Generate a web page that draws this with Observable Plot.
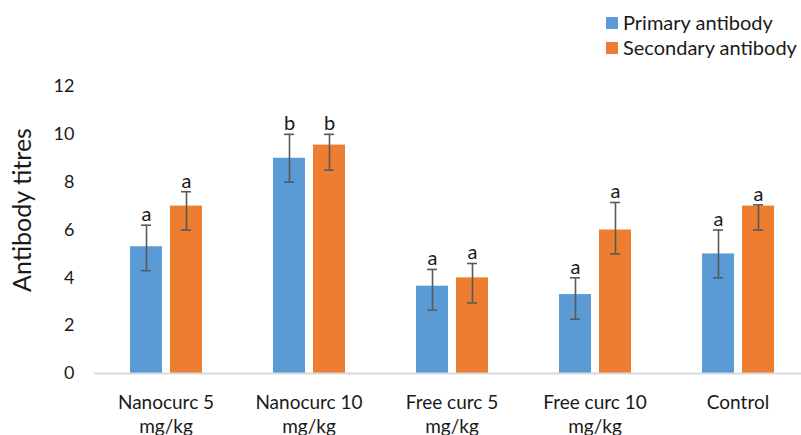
<!DOCTYPE html>
<html>
<head>
<meta charset="utf-8">
<script src="https://cdn.jsdelivr.net/npm/d3@7"></script>
<script src="https://cdn.jsdelivr.net/npm/@observablehq/plot@0.6"></script>
<style>
  html, body { margin: 0; padding: 0; background: #fff; }
  #wrap { position: relative; width: 801px; height: 435px; overflow: hidden; font-family: Lato, sans-serif; }
  #legend { position: absolute; left: 606px; top: 10px; font-size: 20px; color: #1a1a1a; line-height: 25px; }
  #legend .row { display: flex; align-items: center; white-space: nowrap; }
  #legend .sw { width: 12px; height: 12px; margin-right: 5px; }
</style>
</head>
<body>
<div id="wrap"></div>
<script>
const categories = ["Nanocurc 5\nmg/kg", "Nanocurc 10\nmg/kg", "Free curc 5\nmg/kg", "Free curc 10\nmg/kg", "Control"];
const series = ["Primary antibody", "Secondary antibody"];
const colors = ["#5b9bd5", "#ed7d31"];
const primary = [5.3, 9.0, 3.65, 3.3, 5.0];
const primaryLow = [4.3, 8.0, 2.65, 2.27, 4.0];
const primaryHigh = [6.2, 10.0, 4.35, 4.0, 6.0];
const primaryLetters = ["a", "b", "a", "a", "a"];
const secondary = [7.0, 9.55, 4.0, 6.0, 7.0];
const secondaryLow = [6.0, 8.5, 2.95, 5.0, 6.0];
const secondaryHigh = [7.6, 10.0, 4.6, 7.15, 7.05];
const secondaryLetters = ["a", "b", "a", "a", "a"];
const yTicks = [0, 2, 4, 6, 8, 10, 12];

const rows = [];
categories.forEach((c, i) => {
  rows.push({cat: c, s: series[0], v: primary[i], lo: primaryLow[i], hi: primaryHigh[i], t: primaryLetters[i]});
  rows.push({cat: c, s: series[1], v: secondary[i], lo: secondaryLow[i], hi: secondaryHigh[i], t: secondaryLetters[i]});
});

const chart = Plot.plot({
  width: 801,
  height: 435,
  marginTop: 86,
  marginBottom: 62,
  marginLeft: 94,
  marginRight: -8.5,
  style: {fontFamily: "Lato, sans-serif", fontSize: "18px", color: "#1a1a1a", background: "#fff"},
  fx: {domain: categories, padding: 0},
  x: {domain: series, paddingInner: 0.2, paddingOuter: 0.8875, axis: null},
  y: {domain: [0, 12]},
  color: {domain: series, range: colors},
  marks: [
    Plot.axisY({ticks: yTicks, tickSize: 0, tickPadding: 20, label: null, fontSize: 18}),
    Plot.axisFx({anchor: "bottom", tickSize: 0, tickPadding: 19, label: null, fontSize: 19, lineHeight: 1.25}),
    Plot.barY(rows, {fx: "cat", x: "s", y: "v", fill: "s"}),
    Plot.ruleY([0], {stroke: "#d9d9d9", strokeWidth: 2}),
    Plot.ruleX(rows, {fx: "cat", x: "s", y1: "lo", y2: "hi", stroke: "#595959", strokeWidth: 1.6}),
    Plot.tickY(rows, {fx: "cat", x: "s", y: "lo", insetLeft: 11, insetRight: 11, stroke: "#595959", strokeWidth: 1.6}),
    Plot.tickY(rows, {fx: "cat", x: "s", y: "hi", insetLeft: 11, insetRight: 11, stroke: "#595959", strokeWidth: 1.6}),
    Plot.text(rows, {fx: "cat", x: "s", y: "hi", text: "t", dy: -4, lineAnchor: "bottom", fontSize: 20, fill: "#1a1a1a"})
  ]
});

const wrap = document.getElementById("wrap");
wrap.appendChild(chart);

// y-axis title
const ns = "http://www.w3.org/2000/svg";
const title = document.createElementNS(ns, "text");
title.setAttribute("transform", "translate(31,210) rotate(-90)");
title.setAttribute("text-anchor", "middle");
title.setAttribute("font-size", "25");
title.setAttribute("font-family", "Lato, sans-serif");
title.setAttribute("fill", "#1a1a1a");
title.textContent = "Antibody titres";
chart.appendChild(title);

// legend
const legend = document.createElement("div");
legend.id = "legend";
series.forEach((s, i) => {
  const row = document.createElement("div");
  row.className = "row";
  const sw = document.createElement("span");
  sw.className = "sw";
  sw.style.background = colors[i];
  const lab = document.createElement("span");
  lab.textContent = s;
  row.appendChild(sw);
  row.appendChild(lab);
  legend.appendChild(row);
});
wrap.appendChild(legend);
</script>
</body>
</html>
